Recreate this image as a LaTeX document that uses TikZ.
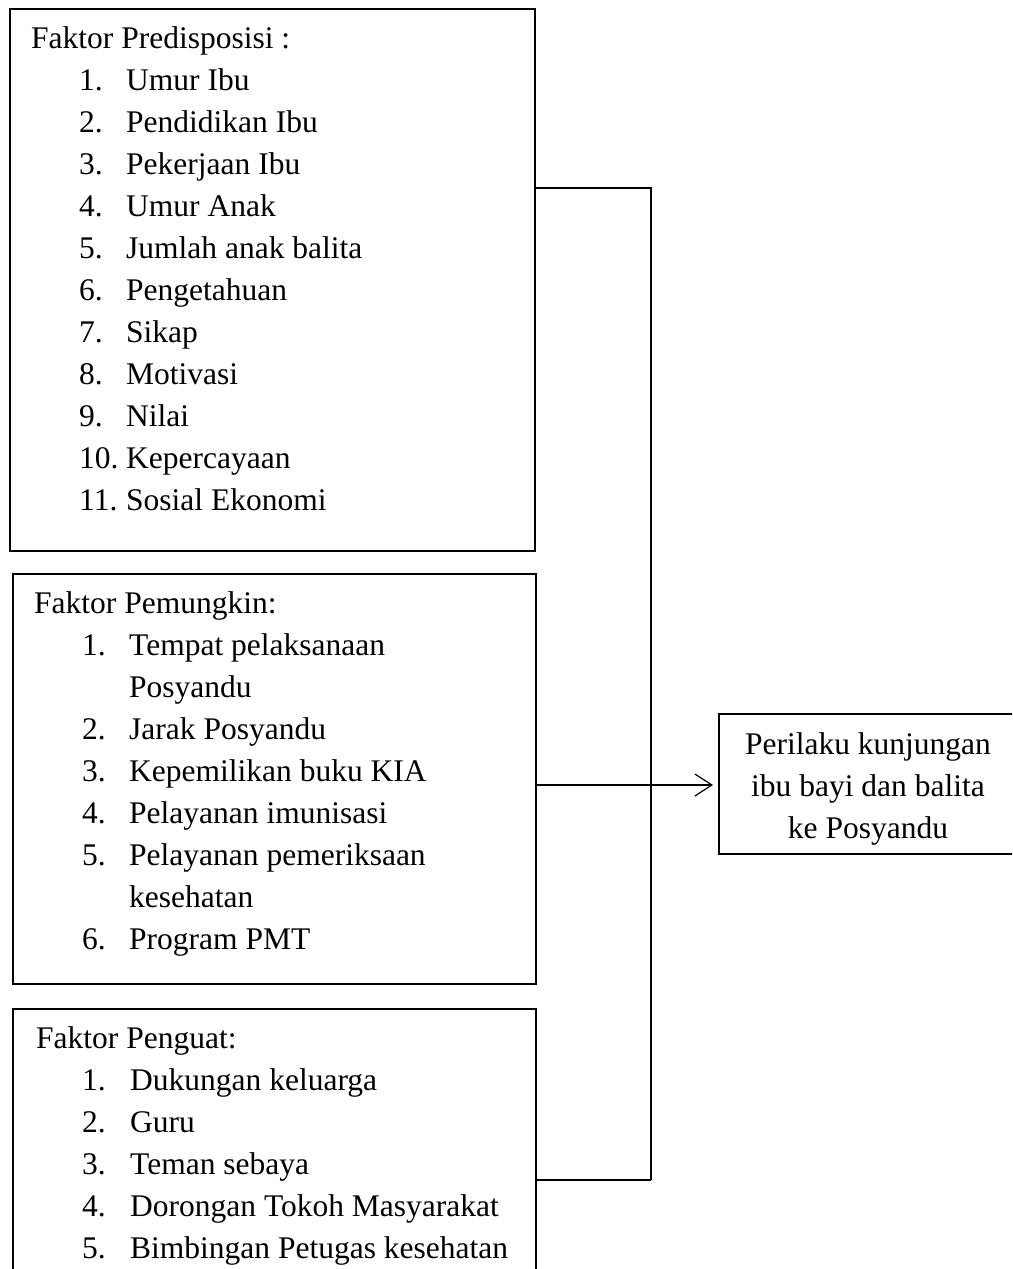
\documentclass[tikz,border=0pt]{standalone}
\usepackage{fontspec}
\setmainfont{Liberation Serif}
\usetikzlibrary{arrows.meta}
\begin{document}
\begin{tikzpicture}[x=1pt,y=-1pt,
  box/.style={draw, line width=1.8pt, inner sep=0pt, anchor=north west},
  txt/.style={anchor=base west, inner sep=0pt, font=\fontsize{31.5}{42}\selectfont},
  ctxt/.style={anchor=base, inner sep=0pt, font=\fontsize{31.5}{42}\selectfont},
  conn/.style={line width=1.2pt}]
\useasboundingbox (0,0) rectangle (1012,1269);
\clip (0,0) rectangle (1012,1269);
% boxes
\node[box, minimum width=525pt, minimum height=542pt] (b1) at (9,8) {};
\node[box, minimum width=523pt, minimum height=410pt] (b2) at (12,573) {};
\node[box, minimum width=523pt, minimum height=290pt] (b3) at (12,1008) {};
\node[box, minimum width=300pt, minimum height=140pt] (b4) at (718,713) {};
% box 1 text
\node[txt] (h1) at (31,48) {Faktor Predisposisi :};
\foreach \t [count=\i] in {Umur Ibu, Pendidikan Ibu, Pekerjaan Ibu, Umur Anak, Jumlah anak balita, Pengetahuan, Sikap, Motivasi, Nilai, Kepercayaan, Sosial Ekonomi}{
  \node[txt] (pn\i) at (79,48+42*\i) {\i.};
  \node[txt] (pt\i) at (126,48+42*\i) {\t};
}
% box 2 text
\node[txt] (h2) at (34,613) {Faktor Pemungkin:};
\foreach \n/\t [count=\i] in {1./Tempat pelaksanaan, /Posyandu, 2./Jarak Posyandu, 3./Kepemilikan buku KIA, 4./Pelayanan imunisasi, 5./Pelayanan pemeriksaan, /kesehatan, 6./Program PMT}{
  \node[txt] (qn\i) at (82,613+42*\i) {\n};
  \node[txt] (qt\i) at (129,613+42*\i) {\t};
}
% box 3 text
\node[txt] (h3) at (36,1048) {Faktor Penguat:};
\foreach \t [count=\i] in {Dukungan keluarga, Guru, Teman sebaya, Dorongan Tokoh Masyarakat, Bimbingan Petugas kesehatan}{
  \node[txt] (rn\i) at (82,1048+42*\i) {\i.};
  \node[txt] (rt\i) at (130,1048+42*\i) {\t};
}
% box 4 text
\node[ctxt] (w1) at (868,754) {Perilaku kunjungan};
\node[ctxt] (w2) at (868,796) {ibu bayi dan balita};
\node[ctxt] (w3) at (868,838) {ke Posyandu};
% connectors
\coordinate (j1) at (651,188);
\coordinate (j3) at (651,1180);
\coordinate (ay) at (0,785);
\draw[conn] (b1.east |- j1) -- (j1) -- (j3);
\draw[conn] (b3.east |- j3) -- (j3);
\draw[conn, -{Straight Barb[length=17pt,width=22pt,line width=1.2pt]}] (b2.east |- ay) -- ([xshift=-5pt]b4.west |- ay);
\end{tikzpicture}
\end{document}
